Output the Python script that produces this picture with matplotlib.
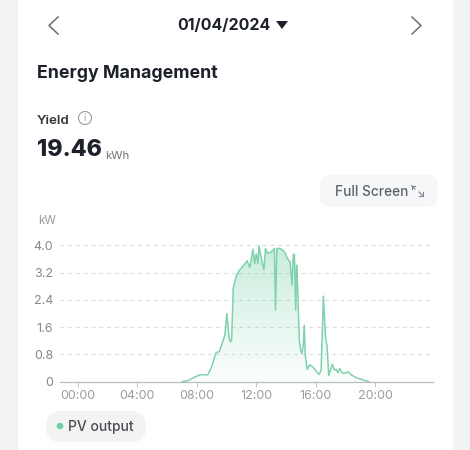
import numpy as np
import matplotlib
matplotlib.use("Agg")
import matplotlib.pyplot as plt
from matplotlib.patches import FancyBboxPatch, Rectangle, Circle, Polygon
from matplotlib.lines import Line2D

plt.rcParams['font.family'] = ['Inter', 'DejaVu Sans']

hours = [7.05, 7.35, 7.58, 7.91, 8.24, 8.58, 8.76, 9.02, 9.31, 9.53, 9.76, 9.91, 10.04, 10.18, 10.27, 10.36,
         10.47, 10.69, 10.91, 11.24, 11.40, 11.58, 11.80, 11.91, 12.02, 12.13, 12.20, 12.36, 12.53, 12.64,
         12.80, 13.02, 13.24, 13.31, 13.40, 13.62, 13.91, 14.11, 14.29, 14.42, 14.51, 14.58, 14.67, 14.73,
         14.80, 14.91, 15.00, 15.09, 15.18, 15.24, 15.31, 15.44, 15.62, 15.84, 16.07, 16.24, 16.38, 16.53,
         16.67, 16.78, 16.89, 17.00, 17.13, 17.29, 17.40, 17.51, 17.62, 17.78, 17.96, 18.18, 18.40, 18.73,
         19.18, 19.58]
power = [0.00, 0.02, 0.06, 0.14, 0.20, 0.20, 0.20, 0.44, 0.85, 0.88, 1.17, 1.37, 2.00, 1.32, 1.17, 1.22,
         2.74, 3.13, 3.28, 3.45, 3.55, 3.35, 3.89, 3.47, 3.75, 3.47, 3.98, 3.62, 3.28, 3.91,
         3.76, 3.81, 3.91, 2.10, 3.91, 3.91, 3.82, 3.62, 3.52, 2.84, 3.74, 3.74, 2.10, 3.42,
         2.79, 1.22, 0.93, 0.83, 1.08, 1.66, 0.78, 0.36, 0.49, 0.42, 0.29, 0.21, 0.34, 2.51,
         1.32, 1.03, 0.18, 0.34, 0.51, 0.34, 0.36, 0.26, 0.39, 0.26, 0.24, 0.29, 0.20, 0.12,
         0.05, 0.00]
y_ticks = [0, 0.8, 1.6, 2.4, 3.2, 4.0]
y_labels = ['0', '0.8', '1.6', '2.4', '3.2', '4.0']
x_ticks = [0, 4, 8, 12, 16, 20]
x_labels = ['00:00', '04:00', '08:00', '12:00', '16:00', '20:00']

W, H = 470, 450
fig = plt.figure(figsize=(W / 100, H / 100), dpi=100, facecolor='white')

bg = fig.add_axes([0, 0, 1, 1], zorder=0)
bg.set_xlim(0, W)
bg.set_ylim(H, 0)
bg.axis('off')
bg.add_patch(Rectangle((0, 0), 18, H, fc='#f2f3f5', ec='none'))
bg.add_patch(Rectangle((453, 0), 17, H, fc='#f2f3f5', ec='none'))

dark = '#1d2129'
bg.add_line(Line2D([58, 49, 58], [17, 25.5, 34], color='#6b6f75', lw=1.1))
bg.add_line(Line2D([412, 421, 412], [17, 25.5, 34], color='#6b6f75', lw=1.1))
bg.text(223.5, 26, '01/04/2024', fontsize=11.5, fontweight='bold', color=dark, ha='center', va='center')
bg.add_patch(Polygon([[276, 21], [288, 21], [282, 29]], fc=dark, ec='none'))
bg.text(37, 74, 'Energy Management', fontsize=12.8, fontweight='bold', color=dark, ha='left', va='center')
bg.text(37, 120.5, 'Yield', fontsize=9.6, fontweight='semibold', color='#33363b', ha='left', va='center')
bg.add_patch(Circle((85, 118), 6.5, fc='none', ec='#9a9da2', lw=0.8))
bg.text(85, 118, 'i', fontsize=7, color='#9a9da2', ha='center', va='center')
bg.text(37, 150, '19.46', fontsize=16.7, fontweight='extra bold', color=dark, ha='left', va='center')
bg.text(105, 156, 'kWh', fontsize=8.2, color='#6f7277', ha='left', va='center')

bg.add_patch(FancyBboxPatch((320, 175), 118, 32, boxstyle='round,pad=0,rounding_size=10',
                            fc='#f6f7f9', ec='none'))
bg.text(335, 192, 'Full Screen', fontsize=9.9, fontweight='medium', color='#5f6368', ha='left', va='center')
bg.add_line(Line2D([411.5, 411.5, 415], [189, 185.5, 185.5], color='#80848a', lw=0.8))
bg.add_line(Line2D([411.5, 415], [185.5, 189], color='#80848a', lw=0.8))
bg.add_line(Line2D([422.5, 422.5, 419], [192, 195.5, 195.5], color='#80848a', lw=0.8))
bg.add_line(Line2D([422.5, 419], [195.5, 192], color='#80848a', lw=0.8))

bg.add_patch(FancyBboxPatch((46, 411), 100, 31, boxstyle='round,pad=0,rounding_size=15',
                            fc='#f3f3f4', ec='none'))
bg.add_patch(Circle((60, 426), 3.3, fc='#6fd1a5', ec='none'))
bg.text(68.5, 427.5, 'PV output', fontsize=10, fontweight='medium', color='#4a4d52', ha='left', va='center')

x0, x1 = 60, 433
ytop, ybot = 245.4, 381.6
ax = fig.add_axes([x0 / W, 1 - ybot / H, (x1 - x0) / W, (ybot - ytop) / H], zorder=1)
ax.patch.set_alpha(0)
ax.set_xlim((x0 - 77.5) / 14.875, (x1 - 77.5) / 14.875)
ax.set_ylim(0, 4.0)
for s in ['top', 'right', 'left']:
    ax.spines[s].set_visible(False)
ax.spines['bottom'].set_color('#b9bcc0')
ax.spines['bottom'].set_linewidth(0.9)
ax.set_xticks(x_ticks, x_labels)
ax.set_yticks(y_ticks, y_labels)
ax.tick_params(axis='x', length=3.5, width=0.7, color='#c4c6ca', labelcolor='#9a9da1', labelsize=9, pad=2.5)
ax.tick_params(axis='y', length=0, labelcolor='#85888d', labelsize=9, pad=5)
for yv in y_ticks[1:]:
    ax.axhline(yv, color='#dcdcdc', lw=0.8, ls=(0, (3.5, 3.5)), zorder=1, clip_on=False)

rgba = np.zeros((256, 2, 4))
rgba[..., :3] = matplotlib.colors.to_rgb('#7fd4ae')
rgba[..., 3] = np.linspace(0.42, 0.03, 256)[:, None]
im = ax.imshow(rgba, extent=[ax.get_xlim()[0], ax.get_xlim()[1], 0, 4.0], origin='upper',
               aspect='auto', zorder=2, interpolation='bilinear')
poly = Polygon(np.column_stack([hours, power]), closed=True, transform=ax.transData, fc='none', ec='none')
ax.add_patch(poly)
im.set_clip_path(poly)
ax.plot(hours, power, color='#7fd2ad', lw=1.1, zorder=3, solid_joinstyle='round', clip_on=False)

bg.text(38, 220.5, 'kW', fontsize=8.4, color='#9a9da1', ha='left', va='center')

fig.savefig('out.png', dpi=100)
